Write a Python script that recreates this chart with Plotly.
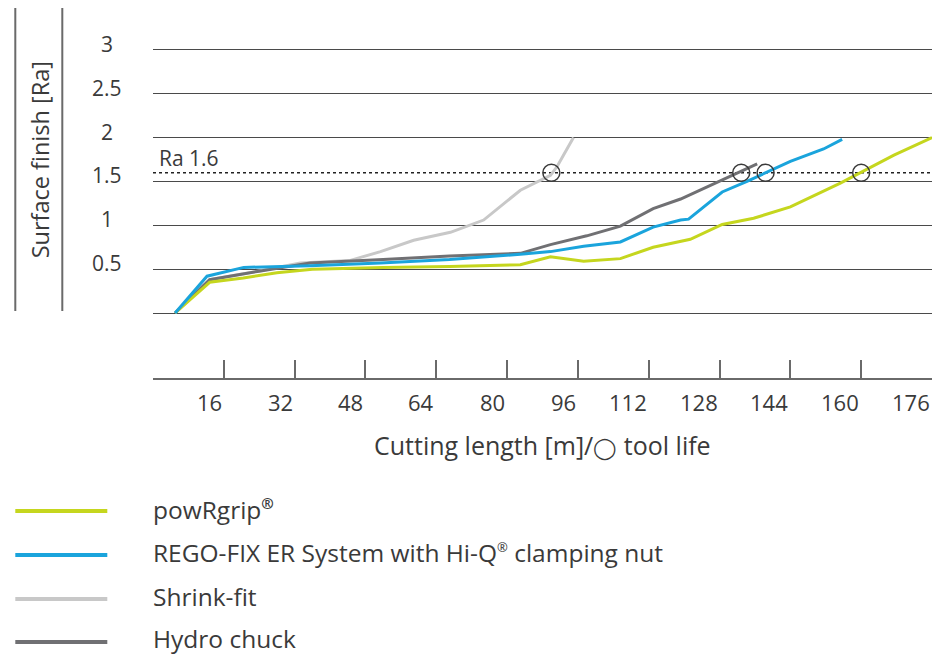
import plotly.graph_objects as go

# ---------------- data ----------------
powrgrip_x = [5, 12.8, 20.4, 28, 36, 52, 67, 83, 89.8, 97.3, 105.6, 113, 121.4, 128.6, 135.7, 144, 155.3, 167.4, 176]
powrgrip_y = [0, 0.35, 0.40, 0.46, 0.50, 0.52, 0.53, 0.55, 0.64, 0.59, 0.62, 0.75, 0.84, 1.01, 1.08, 1.21, 1.48, 1.80, 2.0]

regofix_x = [5, 12.2, 20.5, 35.5, 51.4, 67, 83, 89.8, 97.3, 105.6, 113, 119.2, 121, 128.6, 134.2, 144, 151.5, 155.7]
regofix_y = [0, 0.42, 0.52, 0.54, 0.57, 0.61, 0.67, 0.70, 0.76, 0.81, 0.98, 1.06, 1.07, 1.38, 1.50, 1.73, 1.87, 1.98]

shrink_x = [5, 12.8, 24, 33.3, 44.6, 51.4, 58.9, 67.2, 74.7, 83, 89.8, 91.3, 95]
shrink_y = [0, 0.38, 0.48, 0.57, 0.60, 0.70, 0.83, 0.92, 1.06, 1.40, 1.57, 1.67, 2.0]

hydro_x = [5, 12.8, 24.3, 35.5, 52, 67, 83, 89.8, 98, 105.6, 113, 119.2, 136.5]
hydro_y = [0, 0.38, 0.48, 0.57, 0.61, 0.65, 0.68, 0.78, 0.88, 0.99, 1.19, 1.30, 1.70]

tool_life_x = [90, 132.9, 138.4, 160]
ra_limit = 1.6

REG_SMALL = "<sup><span style='font-size:13px'>®</span></sup>"
series_names = ["powRgrip<sup><span style='font-size:15px'><b>®</b></span></sup>",
                "REGO-FIX ER System with Hi-Q" + REG_SMALL + " clamping nut",
                "Shrink-fit", "Hydro chuck"]
series_colors = ["#c5d61e", "#1aa4dc", "#c8c8c8", "#707073"]

x_ticks = list(range(0, 177, 16))
x_tick_labels = [str(v) for v in x_ticks[1:]]
y_ticks = [0, 0.5, 1, 1.5, 2, 2.5, 3]
y_tick_labels = ["0.5", "1", "1.5", "2", "2.5", "3"]

# ---------------- layout geometry (pixels) ----------------
W, H = 936, 656
L, R, T, B = 152.7, 931.7, 8, 378
X_RANGE = [0, 176]
Y_RANGE = [(313 - 378) / 87.7, (313 - 8) / 87.7]

def px(xp):
    return (xp - L) / (R - L)

def py(yp):
    return (B - yp) / (B - T)

FONT = "Open Sans, Noto Sans, sans-serif"
TXT = "#3a3a3a"

fig = go.Figure()

trace_data = [(shrink_x, shrink_y, 2), (hydro_x, hydro_y, 3), (powrgrip_x, powrgrip_y, 0), (regofix_x, regofix_y, 1)]
for xs, ys, idx in trace_data:
    fig.add_trace(go.Scatter(x=xs, y=ys, mode="lines", name=series_names[idx],
                             line=dict(color=series_colors[idx], width=3), showlegend=False))

fig.add_trace(go.Scatter(x=tool_life_x, y=[ra_limit] * len(tool_life_x), mode="markers",
                         marker=dict(symbol="circle-open", size=17, color="#3a3a3a", line=dict(width=1.5)),
                         showlegend=False))

shapes = []
shapes.append(dict(type="line", xref="x", yref="y", x0=X_RANGE[0], x1=X_RANGE[1], y0=ra_limit, y1=ra_limit,
                   line=dict(color="#222", width=1.5, dash="dot"), layer="below"))
for xp in (15, 62):
    shapes.append(dict(type="line", xref="paper", yref="paper", x0=px(xp), x1=px(xp), y0=py(311), y1=py(8),
                       line=dict(color="#6a6a6a", width=2)))
legend_y = [511, 555, 599, 642]
legend_txt_y = [509, 552, 596, 638]
for i in range(4):
    shapes.append(dict(type="line", xref="paper", yref="paper", x0=px(15), x1=px(107),
                       y0=py(legend_y[i]), y1=py(legend_y[i]),
                       line=dict(color=series_colors[i], width=4)))

annotations = []
for v, lab in zip(x_ticks[1:], x_tick_labels):
    annotations.append(dict(x=v, y=py(402), xref="x", yref="paper", text=lab, showarrow=False,
                            xanchor="right", yanchor="middle", xshift=0,
                            font=dict(family=FONT, size=22, color=TXT)))
for v, lab in zip(y_ticks[1:], y_tick_labels):
    annotations.append(dict(x=px(107), y=v, xref="paper", yref="y", text=lab, showarrow=False,
                            xanchor="center", yanchor="middle", yshift=6,
                            font=dict(family=FONT, size=21, color=TXT)))
annotations.append(dict(x=px(40), y=py(160), xref="paper", yref="paper", text="Surface finish [Ra]",
                        textangle=-90, showarrow=False, xanchor="center", yanchor="middle",
                        font=dict(family=FONT, size=23.5, color=TXT)))
annotations.append(dict(x=px(542), y=py(445), xref="paper", yref="paper",
                        text="Cutting length [m]/<span style='font-size:21px'>◯</span> tool life",
                        showarrow=False, xanchor="center", yanchor="middle",
                        font=dict(family=FONT, size=25, color=TXT)))
annotations.append(dict(x=1.0, y=ra_limit, xref="x", yref="y", text="Ra 1.6", showarrow=False,
                        xanchor="left", yanchor="middle", yshift=15,
                        font=dict(family=FONT, size=21, color=TXT)))
for i in range(4):
    annotations.append(dict(x=px(151), y=py(legend_txt_y[i]), xref="paper", yref="paper", text=series_names[i],
                            showarrow=False, xanchor="left", yanchor="middle",
                            font=dict(family=FONT, size=24.5, color=TXT)))

fig.update_layout(
    width=W, height=H,
    margin=dict(l=L, r=W - R, t=T, b=H - B, pad=0),
    paper_bgcolor="white", plot_bgcolor="white",
    xaxis=dict(range=X_RANGE, tickvals=x_ticks, showticklabels=False, ticks="inside", ticklen=18,
               tickwidth=1.5, tickcolor="#6a6a6a", showline=True, linecolor="#6a6a6a", linewidth=1.5,
               showgrid=False, zeroline=False, fixedrange=True),
    yaxis=dict(range=Y_RANGE, tickvals=y_ticks, showticklabels=False, ticks="", showgrid=True,
               gridcolor="#4a4a4a", gridwidth=1.3, zeroline=False, showline=False, fixedrange=True),
    shapes=shapes, annotations=annotations,
    showlegend=False,
)

fig.write_html("out.html", config={"displayModeBar": False},
               post_script="document.body.style.margin='0';document.body.style.overflow='hidden';")
